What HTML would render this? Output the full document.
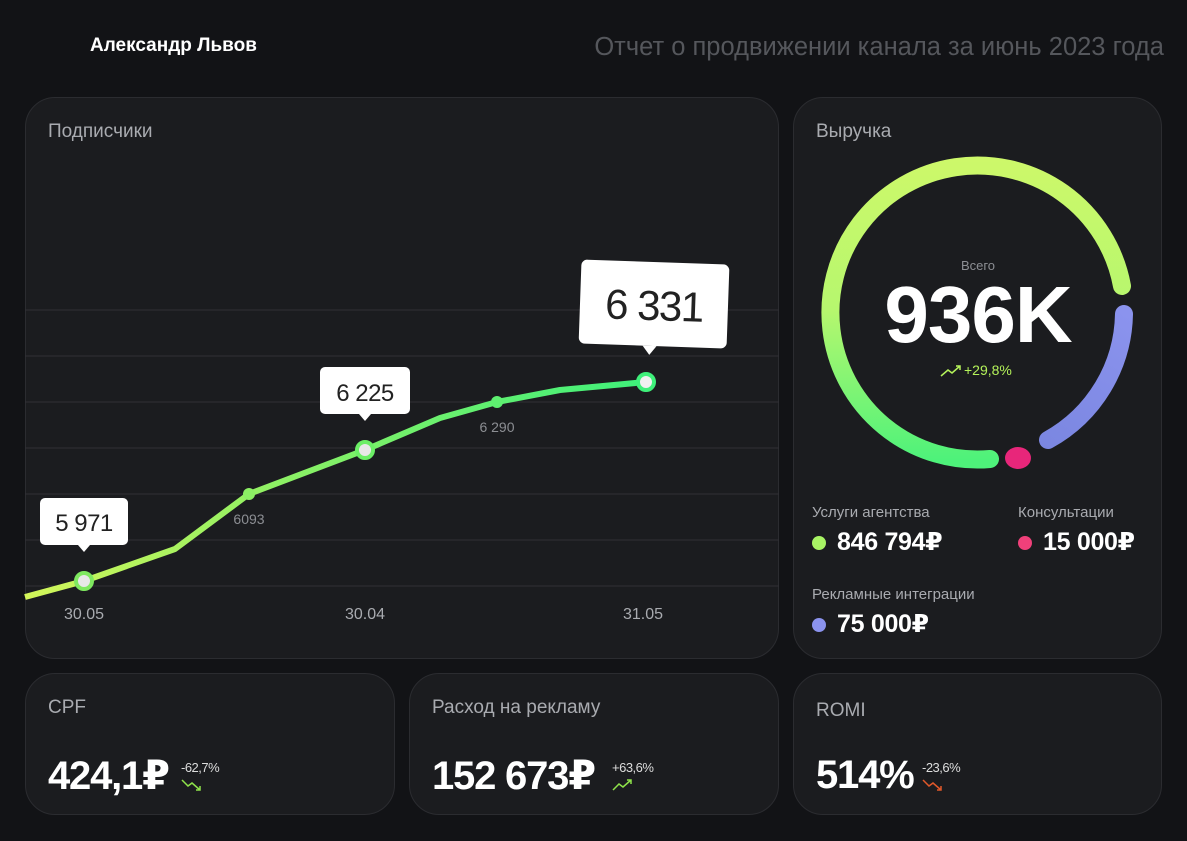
<!DOCTYPE html>
<html><head><meta charset="utf-8"><style>
*{margin:0;padding:0;box-sizing:border-box}
body{width:1187px;height:841px;background:#121316;font-family:"Liberation Sans","DejaVu Sans",sans-serif;overflow:hidden;position:relative;color:#fff}
.card{position:absolute;background:#1b1c1f;border:1px solid #2b2c30;border-radius:30px}
.t{position:absolute;color:#a9abb0;font-size:19px}
.big{position:absolute;font-size:40px;font-weight:bold;letter-spacing:-1.2px;color:#fff}
.pct{position:absolute;font-size:13px;color:#ddd;letter-spacing:-0.5px}
</style></head><body>
<div style="position:absolute;left:90px;top:35px;font-size:19px;font-weight:bold">Александр Львов</div>
<div style="position:absolute;right:23px;top:33px;font-size:25.5px;color:#55575c">Отчет о продвижении канала за июнь 2023 года</div>

<div class="card" style="left:25px;top:97px;width:754px;height:562px"></div>
<div class="t" style="left:48px;top:121px">Подписчики</div>
<div class="card" style="left:793px;top:97px;width:369px;height:562px"></div>
<div class="t" style="left:816px;top:121px">Выручка</div>

<svg width="1187" height="841" style="position:absolute;left:0;top:0">
<defs>
<linearGradient id="lg" x1="25" y1="0" x2="646" y2="0" gradientUnits="userSpaceOnUse"><stop offset="0" stop-color="#d4f65a"/><stop offset="0.4" stop-color="#8ef064"/><stop offset="1" stop-color="#3ef07a"/></linearGradient>
<linearGradient id="rg" x1="978" y1="160" x2="978" y2="460" gradientUnits="userSpaceOnUse"><stop offset="0" stop-color="#cdf86a"/><stop offset="0.5" stop-color="#b6f76e"/><stop offset="1" stop-color="#4ef27a"/></linearGradient>
<linearGradient id="pg" x1="1120" y1="310" x2="1040" y2="450" gradientUnits="userSpaceOnUse"><stop offset="0" stop-color="#8b93ee"/><stop offset="1" stop-color="#7a86e0"/></linearGradient>
</defs>
<g stroke="#303136" stroke-width="1">
<line x1="25" y1="310" x2="779" y2="310"/><line x1="25" y1="356" x2="779" y2="356"/><line x1="25" y1="402" x2="779" y2="402"/><line x1="25" y1="448" x2="779" y2="448"/><line x1="25" y1="494" x2="779" y2="494"/><line x1="25" y1="540" x2="779" y2="540"/><line x1="25" y1="586" x2="779" y2="586"/>
</g>
<polyline points="25,597 84,581 175,549 249,494 365,450 440,418 497,402 560,390 646,382" fill="none" stroke="url(#lg)" stroke-width="6" stroke-linejoin="round"/>
<circle cx="249" cy="494" r="6" fill="#8cf064"/><circle cx="497" cy="402" r="6" fill="#5ef070"/>
<circle cx="84" cy="581" r="8" fill="#e8e8e8" stroke="#7fe860" stroke-width="4"/>
<circle cx="365" cy="450" r="8" fill="#e8e8e8" stroke="#6cee66" stroke-width="4"/>
<circle cx="646" cy="382" r="8" fill="#f0f0f0" stroke="#3ef07a" stroke-width="4"/>
<text x="249" y="524" fill="#8c8e93" font-size="14" text-anchor="middle" font-family="Liberation Sans">6093</text>
<text x="497" y="432" fill="#8c8e93" font-size="14" text-anchor="middle" font-family="Liberation Sans">6 290</text>
<g fill="#a9abb0" font-size="16" text-anchor="middle" font-family="Liberation Sans"><text x="84" y="619">30.05</text><text x="365" y="619">30.04</text><text x="643" y="619">31.05</text></g>
<g><rect x="40" y="498" width="88" height="47" rx="5" fill="#fff"/><path d="M78 545 L84 552 L90 545Z" fill="#fff"/><text x="84" y="531" fill="#222" font-size="24" text-anchor="middle" font-family="Liberation Sans" letter-spacing="-0.5">5 971</text></g>
<g><rect x="320" y="367" width="90" height="47" rx="5" fill="#fff"/><path d="M359 414 L365 421 L371 414Z" fill="#fff"/><text x="365" y="401" fill="#222" font-size="24" text-anchor="middle" font-family="Liberation Sans" letter-spacing="-0.5">6 225</text></g>
<g transform="rotate(2 653 305)"><rect x="580" y="262" width="148" height="84" rx="6" fill="#fff"/><path d="M644 346 L651 355 L658 346Z" fill="#fff"/><text x="654" y="320" fill="#222" font-size="42" text-anchor="middle" font-family="Liberation Sans" letter-spacing="-1.5">6 331</text></g>

<path d="M990 459 A147 147 0 1 1 1122 286" fill="none" stroke="url(#rg)" stroke-width="18" stroke-linecap="round"/>
<path d="M1124 314 A147 147 0 0 1 1048 440" fill="none" stroke="url(#pg)" stroke-width="18" stroke-linecap="round"/>
<ellipse cx="1018" cy="458" rx="13" ry="11" fill="#e8267a"/>
<text x="978" y="270" fill="#8c8e93" font-size="13" text-anchor="middle" font-family="Liberation Sans">Всего</text>
<text x="978" y="342" fill="#fff" font-size="80" font-weight="bold" text-anchor="middle" font-family="Liberation Sans" letter-spacing="-1">936K</text>
<path d="M941 376 l7-6 4 3 8-7 m-4 0 h4 v4" fill="none" stroke="#b4f25a" stroke-width="1.5"/>
<text x="964" y="375" fill="#b4f25a" font-size="14" font-family="Liberation Sans">+29,8%</text>
<circle cx="819" cy="543" r="7" fill="#a8f464"/><circle cx="1025" cy="543" r="7" fill="#f0407a"/><circle cx="819" cy="625" r="7" fill="#8b93ee"/>
</svg>
<div style="position:absolute;left:812px;top:504px;font-size:15px;color:#a9abb0">Услуги агентства</div>
<div style="position:absolute;left:837px;top:527px;font-size:25px;font-weight:bold;letter-spacing:-0.3px">846 794₽</div>
<div style="position:absolute;left:1018px;top:504px;font-size:15px;color:#a9abb0">Консультации</div>
<div style="position:absolute;left:1043px;top:527px;font-size:25px;font-weight:bold;letter-spacing:-0.3px">15 000₽</div>
<div style="position:absolute;left:812px;top:586px;font-size:15px;color:#a9abb0">Рекламные интеграции</div>
<div style="position:absolute;left:837px;top:609px;font-size:25px;font-weight:bold;letter-spacing:-0.3px">75 000₽</div>

<div class="card" style="left:25px;top:673px;width:370px;height:142px"></div>
<div class="t" style="left:48px;top:697px">CPF</div>
<div class="big" style="left:48px;top:753px">424,1₽</div>
<div class="pct" style="left:181px;top:760px">-62,7%</div>
<svg style="position:absolute;left:181px;top:778px" width="22" height="14"><path d="M1 2 l6 6 4-3 8 7 m-4 0 h4 v-4" fill="none" stroke="#8ee24a" stroke-width="1.5"/></svg>

<div class="card" style="left:409px;top:673px;width:370px;height:142px"></div>
<div class="t" style="left:432px;top:697px">Расход на рекламу</div>
<div class="big" style="left:432px;top:753px">152 673₽</div>
<div class="pct" style="left:612px;top:760px">+63,6%</div>
<svg style="position:absolute;left:612px;top:778px" width="22" height="14"><path d="M1 12 l6-6 4 3 8-7 m-4 0 h4 v4" fill="none" stroke="#8ee24a" stroke-width="1.5"/></svg>

<div class="card" style="left:793px;top:673px;width:369px;height:142px"></div>
<div class="t" style="left:816px;top:700px">ROMI</div>
<div class="big" style="left:816px;top:753px">514%</div>
<div class="pct" style="left:922px;top:760px">-23,6%</div>
<svg style="position:absolute;left:922px;top:778px" width="22" height="14"><path d="M1 2 l6 6 4-3 8 7 m-4 0 h4 v-4" fill="none" stroke="#e0582a" stroke-width="1.5"/></svg>
</body></html>
